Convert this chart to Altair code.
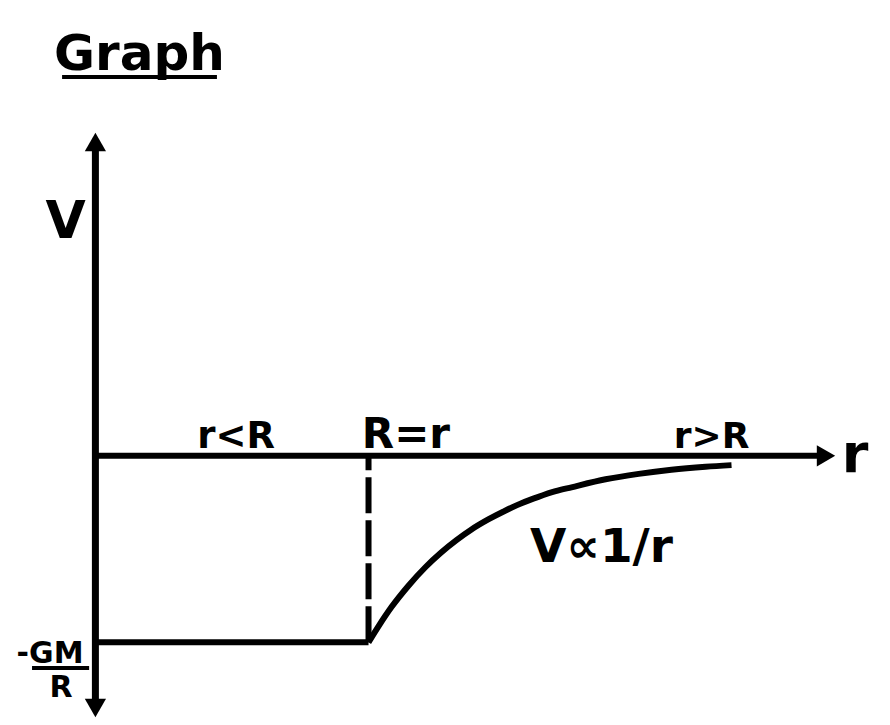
import altair as alt
import pandas as pd

# Values (r in units of R, V in units of GM/R)
inside_r = [0.0, 1.0]
inside_v = [-1.0, -1.0]
curve_r = [1.0, 1.037, 1.084, 1.147, 1.209, 1.267, 1.322, 1.377, 1.44, 1.502, 1.56, 1.622,
           1.685, 1.743, 1.868, 1.989, 2.109, 2.234, 2.329]
curve_v = [-1.0, -0.913, -0.811, -0.695, -0.596, -0.517, -0.452, -0.395, -0.34, -0.293, -0.254, -0.22,
           -0.19, -0.169, -0.126, -0.097, -0.075, -0.059, -0.05]

FONT = "DejaVu Sans"
X = alt.Scale(domain=[-0.32, 2.88], nice=False, zero=False)
Y = alt.Scale(domain=[-1.4, 2.4], nice=False, zero=False)
one = pd.DataFrame({"k": [0]})

inside_df = pd.DataFrame({"r": inside_r, "V": inside_v})
curve_df = pd.DataFrame({"r": curve_r, "V": curve_v})


def xd(v):
    return alt.XDatum(v, scale=X, axis=None, type="quantitative")


def yd(v):
    return alt.YDatum(v, scale=Y, axis=None, type="quantitative")


def label(txt, r, v, size, align="center"):
    return alt.Chart(one).mark_text(
        text=txt, fontSize=size, font=FONT, fontWeight="bold", color="black",
        baseline="alphabetic", align=align
    ).encode(x=xd(r), y=yd(v))


def arrow(shape, r, v):
    return alt.Chart(one).mark_point(
        shape=shape, filled=True, size=450, color="black", opacity=1, strokeWidth=0
    ).encode(x=xd(r), y=yd(v))


v_axis = alt.Chart(one).mark_rule(color="black", strokeWidth=7, strokeCap="butt").encode(
    x=xd(0.0), y=yd(-1.352), y2=alt.Y2Datum(1.682)
)
r_axis = alt.Chart(one).mark_rule(color="black", strokeWidth=6, strokeCap="butt").encode(
    x=xd(0.0), x2=alt.X2Datum(2.675), y=yd(0.0)
)
dash = alt.Chart(one).mark_rule(color="black", strokeWidth=6, strokeDash=[36, 7], strokeCap="butt").encode(
    x=xd(1.0), y=yd(-1.0), y2=alt.Y2Datum(0.0)
)
flat = alt.Chart(inside_df).mark_line(color="black", strokeWidth=6, strokeCap="butt").encode(
    x=alt.X("r:Q", scale=X, axis=None), y=alt.Y("V:Q", scale=Y, axis=None)
)
curve = alt.Chart(curve_df).mark_line(color="black", strokeWidth=6, strokeCap="butt", interpolate="monotone").encode(
    x=alt.X("r:Q", scale=X, axis=None), y=alt.Y("V:Q", scale=Y, axis=None)
)
underline = alt.Chart(one).mark_rule(color="black", strokeWidth=4).encode(
    x=xd(-0.122), x2=alt.X2Datum(0.445), y=yd(2.03)
)
frac_bar = alt.Chart(one).mark_rule(color="black", strokeWidth=4).encode(
    x=xd(-0.232), x2=alt.X2Datum(-0.023), y=yd(-1.138)
)

layers = [
    v_axis, r_axis, dash, flat, curve, underline, frac_bar,
    arrow("triangle-up", 0.0, 1.682),
    arrow("triangle-down", 0.0, -1.352),
    arrow("triangle-right", 2.675, 0.0),
    label("Graph", 0.161, 2.068, 50),
    label("V", -0.109, 1.167, 52),
    label("r<R", 0.515, 0.042, 37),
    label("R=r", 1.137, 0.042, 42),
    label("r>R", 2.256, 0.042, 36),
    label("r", 2.781, -0.087, 54),
    label("V\u221d1/r", 1.853, -0.569, 47),
    label("-GM", -0.166, -1.111, 30),
    label("R", -0.126, -1.293, 30),
]

chart = alt.layer(*layers).properties(width=874, height=709, padding=0).configure_view(stroke=None)

chart.save("out.html", embed_options={"renderer": "svg", "actions": False})
